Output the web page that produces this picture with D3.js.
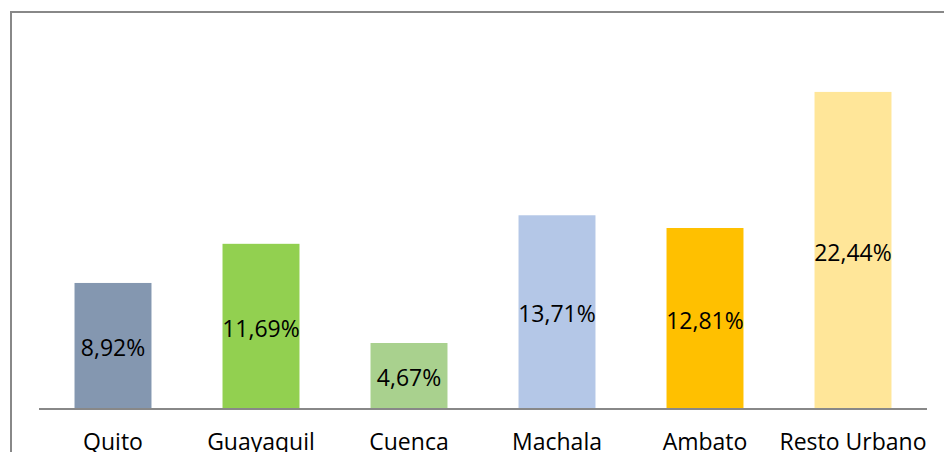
<!doctype html>
<html lang="es">
<head>
  <meta charset="utf-8">
  <title>Ciudades</title>
  <style>
    body { margin: 0; background: #fff; }
    svg { display: block; }
    .frame, .axis-line { stroke: #888; stroke-width: 2; fill: none; }
    text { font-family: "Open Sans", "Noto Sans", sans-serif; fill: #000; }
  </style>
</head>
<body>
  <div id="chart"></div>
  <script src="https://cdn.jsdelivr.net/npm/d3@7/dist/d3.min.js"></script>
  <script>
  // data
  var ciudades = ["Quito", "Guayaquil", "Cuenca", "Machala", "Ambato", "Resto Urbano"];
  var valores = [8.92, 11.69, 4.67, 13.71, 12.81, 22.44];
  var colores = ["#8497B0", "#92D050", "#A9D18E", "#B4C7E7", "#FFC000", "#FFE699"];

  var width = 944, height = 452;
  var baseY = 409;

  var svg = d3.select("#chart").append("svg")
      .attr("width", width)
      .attr("height", height);

  // outer frame (only top and left visible)
  svg.append("path").attr("class", "frame")
      .attr("d", "M11,452V12H944");

  var x = d3.scaleBand().domain(ciudades).range([39, 927]).paddingInner(0.48).paddingOuter(0.24);
  var y = d3.scaleLinear().domain([0, 25]).range([baseY, baseY - 25 * 14.13]);

  svg.selectAll("rect.bar").data(valores).enter()
    .append("rect")
      .attr("class", "bar")
      .attr("x", function(d, i) { return x(ciudades[i]); })
      .attr("y", function(d) { return y(d); })
      .attr("width", x.bandwidth())
      .attr("height", function(d) { return y(0) - y(d); })
      .attr("fill", function(d, i) { return colores[i]; });

  svg.append("line").attr("class", "axis-line")
      .attr("x1", 39).attr("x2", 927)
      .attr("y1", baseY).attr("y2", baseY);

  // value labels centred in the bars
  svg.selectAll("text.val").data(valores).enter()
    .append("text")
      .attr("class", "val")
      .attr("x", function(d, i) { return x(ciudades[i]) + x.bandwidth() / 2; })
      .attr("y", function(d) { return (y(d) + y(0)) / 2; })
      .attr("dy", "0.45em")
      .attr("text-anchor", "middle")
      .style("font-size", "23px")
      .text(function(d) { return d.toFixed(2).replace(".", ",") + "%"; });

  // category labels (cut by the bottom edge, as in the original)
  svg.selectAll("text.cat").data(ciudades).enter()
    .append("text")
      .attr("class", "cat")
      .attr("x", function(d) { return x(d) + x.bandwidth() / 2; })
      .attr("y", 450)
      .attr("text-anchor", "middle")
      .style("font-size", "23px")
      .text(function(d) { return d; });
  </script>
</body>
</html>
